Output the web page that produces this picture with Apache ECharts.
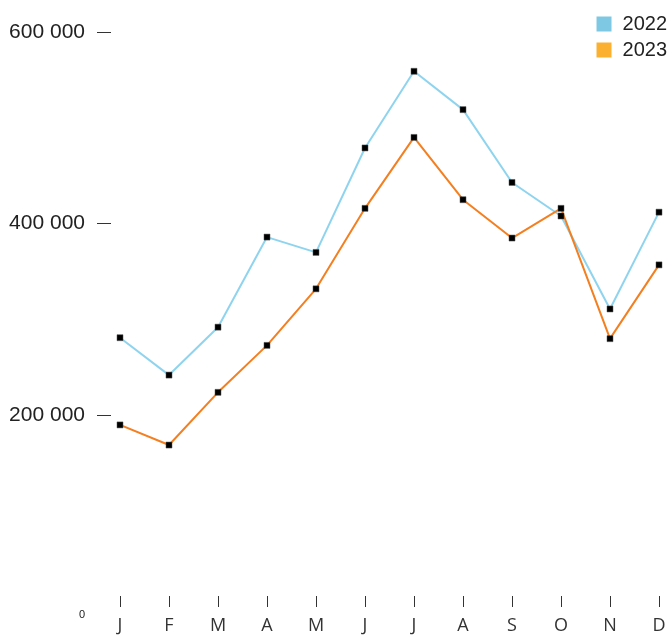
<!DOCTYPE html>
<html><head><meta charset="utf-8">
<script src="https://cdn.jsdelivr.net/npm/echarts@6/dist/echarts.min.js"></script>
<style>html,body{margin:0;padding:0;background:#fff}#c{width:670px;height:635px}</style>
</head><body><div id="c"></div>
<script>
const months = ['J','F','M','A','M','J','J','A','S','O','N','D'];
const seriesNames = ['2022','2023'];
const values2022 = [281000,242000,292000,386000,370000,479000,559000,519000,443000,408000,311000,412000];
const values2023 = [190000,169000,224000,273000,332000,416000,490000,425000,385000,416000,280000,357000];
const yTicks = [0,200000,400000,600000];

const chart = echarts.init(document.getElementById('c'), null, {renderer:'canvas'});
const fmt = v => v === 0 ? '{z|0}' : String(v).replace(/\B(?=(\d{3})+(?!\d))/g, ' ');
chart.setOption({
  animation:false,
  backgroundColor:'#fff',
  grid:{left:120, right:11, top:32, bottom:27},
  legend:{
    orient:'vertical', right:3, top:14, padding:0, itemWidth:15, itemHeight:15, itemGap:6,
    icon:'rect',
    itemStyle:{borderWidth:0},
    textStyle:{fontFamily:'Liberation Sans', fontSize:20, color:'#222', padding:[0,0,0,6]},
    data:[
      {name:seriesNames[0], itemStyle:{color:'#7ec8e3', borderWidth:0}},
      {name:seriesNames[1], itemStyle:{color:'#fbb12f', borderWidth:0}}
    ]
  },
  xAxis:{
    type:'category', data:months, boundaryGap:false, offset:6,
    axisLine:{show:false},
    axisTick:{show:true, inside:true, length:11, lineStyle:{color:'#333', width:1}},
    axisLabel:{fontFamily:'Open Sans', fontSize:18, color:'#333', margin:4},
    splitLine:{show:false}
  },
  yAxis:{
    type:'value', min:0, max:600000, interval:200000, offset:9,
    axisLine:{show:false},
    axisTick:{show:true, length:14, customValues:[200000,400000,600000], lineStyle:{color:'#333', width:1}},
    axisLabel:{fontFamily:'Liberation Sans', fontSize:21, color:'#222', margin:26,
      formatter:fmt,
      rich:{z:{fontSize:11, fontFamily:'Liberation Sans', color:'#222', padding:[16,0,0,0]}}},
    splitLine:{show:false}
  },
  series:[
    {name:seriesNames[0], type:'line', data:values2022, symbol:'rect', symbolSize:6,
      itemStyle:{color:'#000', borderColor:'#555', borderWidth:0.5},
      lineStyle:{color:'#8fd4ef', width:2}},
    {name:seriesNames[1], type:'line', data:values2023, symbol:'rect', symbolSize:6,
      itemStyle:{color:'#000', borderColor:'#555', borderWidth:0.5},
      lineStyle:{color:'#f47f20', width:2}}
  ]
});
</script></body></html>
